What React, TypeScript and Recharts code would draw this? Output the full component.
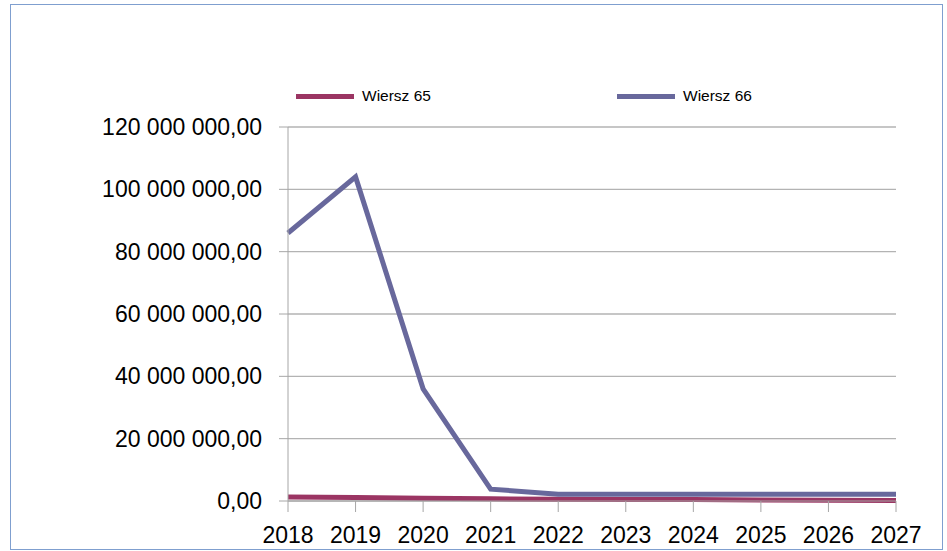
import { LineChart, Line, XAxis, YAxis, CartesianGrid } from "recharts";

const years = ["2018", "2019", "2020", "2021", "2022", "2023", "2024", "2025", "2026", "2027"];
const wiersz65 = [1300000, 1100000, 900000, 700000, 600000, 500000, 450000, 300000, 250000, 200000];
const wiersz66 = [86000000, 104000000, 36000000, 3800000, 2200000, 2200000, 2200000, 2200000, 2200000, 2200000];
const yTicks = [0, 20000000, 40000000, 60000000, 80000000, 100000000, 120000000];

const series = [
  { key: "w65", name: "Wiersz 65", color: "#9B3563", values: wiersz65 },
  { key: "w66", name: "Wiersz 66", color: "#68689C", values: wiersz66 },
];

const data = years.map((year, i) => ({
  year,
  w65: wiersz65[i],
  w66: wiersz66[i],
}));

const fmt = (v: number) => {
  const s = Math.round(v).toString().replace(/\B(?=(\d{3})+(?!\d))/g, " ");
  return s + ",00";
};

const font = "'Liberation Sans', Arial, sans-serif";

export default function App() {
  return (
    <div style={{ position: "absolute", left: 0, top: 0, width: 947, height: 551, background: "#fff" }}>
      <div
        style={{
          position: "absolute",
          left: 10,
          top: 4,
          width: 931,
          height: 544,
          border: "1px solid #7F9FCF",
        }}
      />
      {/* legend */}
      {series.map((s, i) => (
        <div
          key={s.key}
          style={{
            position: "absolute",
            left: i === 0 ? 296 : 617,
            top: 86,
            height: 20,
            display: "flex",
            alignItems: "center",
            fontFamily: font,
            fontSize: 15.5,
            color: "#000",
          }}
        >
          <div style={{ width: 58, height: 5, background: s.color, marginRight: 8 }} />
          <span>{s.name}</span>
        </div>
      ))}
      <div style={{ position: "absolute", left: 0, top: 0 }}>
        <LineChart
          width={947}
          height={551}
          data={data}
          margin={{ top: 127, right: 51, left: 0, bottom: 10 }}
        >
          <CartesianGrid vertical={false} stroke="#B3B3B3" strokeWidth={1.3} />
          <XAxis
            dataKey="year"
            height={40}
            interval={0}
            padding={{ left: 0, right: 0 }}
            stroke="#A6A6A6"
            tickSize={11}
            tickMargin={15}
            tick={{ fill: "#000", fontSize: 23, fontFamily: font }}
          />
          <YAxis
            width={288}
            domain={[0, 120000000]}
            ticks={yTicks}
            interval={0}
            tickFormatter={fmt}
            stroke="#A6A6A6"
            tickSize={9}
            tickMargin={17}
            tick={{ fill: "#000", fontSize: 23, fontFamily: font }}
          />
          {series.map((s) => (
            <Line
              key={s.key}
              dataKey={s.key}
              name={s.name}
              stroke={s.color}
              strokeWidth={5}
              dot={false}
              activeDot={false}
              isAnimationActive={false}
              strokeLinejoin="miter"
            />
          ))}
        </LineChart>
      </div>
    </div>
  );
}
